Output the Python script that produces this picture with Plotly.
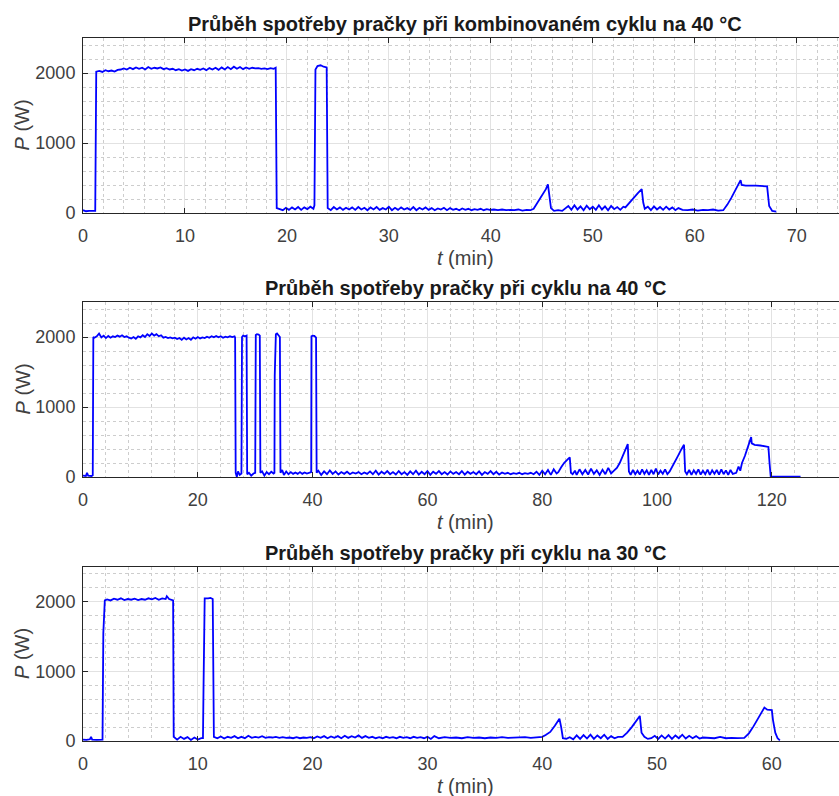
import plotly.graph_objects as go

# ---------------- data (t in min, P in W) ----------------
t_comb = [0.0, 0.3, 0.6, 0.9, 1.2, 1.3, 1.6, 1.9, 2.2, 2.5, 2.8, 3.1, 3.4, 3.7, 4.0, 4.3, 4.6, 4.9, 5.2, 5.5,
          5.8, 6.1, 6.4, 6.7, 7.0, 7.3, 7.6, 7.9, 8.2, 8.5, 8.8, 9.1, 9.4, 9.7, 10.0, 10.3, 10.6, 10.9, 11.2, 11.5,
          11.8, 12.1, 12.4, 12.7, 13.0, 13.3, 13.6, 13.9, 14.2, 14.5, 14.8, 15.1, 15.4, 15.7, 16.0, 16.3, 16.6, 16.9,
          17.2, 17.5, 17.8, 18.1, 18.4, 18.7, 18.9, 19.0, 19.3, 19.6, 19.9, 20.2, 20.5, 20.8, 21.1, 21.4, 21.7, 22.0,
          22.3, 22.6, 22.7, 22.8, 23.0, 23.3, 23.6, 23.9, 24.0, 24.3, 24.6, 24.9, 25.2, 25.5, 25.8, 26.1, 26.4, 26.7,
          27.0, 27.3, 27.6, 27.9, 28.2, 28.5, 28.8, 29.1, 29.4, 29.7, 30.0, 30.3, 30.6, 30.9, 31.2, 31.5, 31.8, 32.1,
          32.4, 32.7, 33.0, 33.3, 33.6, 33.9, 34.2, 34.5, 34.8, 35.1, 35.4, 35.7, 36.0, 36.3, 36.6, 36.9, 37.2, 37.5,
          37.8, 38.1, 38.4, 38.7, 39.0, 39.3, 39.6, 39.9, 40.3, 40.7, 41.1, 41.5, 41.9, 42.3, 42.7, 43.1, 43.5, 43.9,
          44.2, 44.6, 45.0, 45.4, 45.6, 45.75, 45.9, 46.2, 46.6, 47.0, 47.3, 47.6, 47.9, 48.2, 48.5, 48.8, 49.1, 49.4,
          49.7, 50.0, 50.3, 50.6, 50.9, 51.2, 51.5, 51.8, 52.1, 52.4, 52.7, 53.0, 53.2, 53.6, 54.0, 54.4, 54.8, 54.95,
          55.1, 55.4, 55.7, 56.0, 56.3, 56.6, 56.9, 57.2, 57.5, 57.8, 58.1, 58.4, 58.8, 59.3, 59.8, 60.3, 60.8, 61.3,
          61.8, 62.3, 62.8, 63.2, 63.6, 64.0, 64.4, 64.5, 64.6, 65.0, 66.0, 67.0, 67.1, 67.3, 67.6, 68.0]
p_comb = [40, 25, 30, 25, 30, 2020, 2030, 2015, 2040, 2025, 2035, 2020, 2045, 2050, 2065, 2050, 2075, 2055, 2080, 2060,
          2075, 2050, 2085, 2060, 2075, 2065, 2080, 2055, 2070, 2050, 2060, 2040, 2055, 2035, 2050, 2030, 2055, 2040, 2060, 2045,
          2065, 2040, 2070, 2050, 2075, 2045, 2080, 2050, 2085, 2055, 2090, 2060, 2085, 2055, 2080, 2060, 2075, 2065,
          2070, 2060, 2065, 2055, 2070, 2060, 2075, 70, 60, 40, 75, 45, 80, 50, 85, 45, 80, 55,
          90, 60, 110, 2050, 2100, 2110, 2090, 2080, 70, 40, 85, 50, 80, 45, 75, 50, 80, 45,
          85, 50, 75, 40, 80, 50, 85, 45, 70, 50, 90, 40, 75, 45, 80, 50, 70, 45,
          85, 40, 75, 50, 80, 45, 70, 40, 65, 50, 75, 40, 70, 45, 60, 40, 65, 45,
          60, 40, 55, 45, 60, 40, 55, 45, 50, 40, 50, 40, 45, 40, 50, 35, 45, 40,
          60, 150, 250, 340, 410, 200, 70, 30, 40, 30, 70, 100, 45, 110, 50, 95, 40, 105,
          55, 90, 45, 110, 50, 95, 40, 100, 55, 85, 45, 90, 80, 150, 220, 280, 340, 150,
          60, 90, 40, 95, 50, 85, 45, 90, 50, 80, 40, 70, 45, 40, 50, 35, 45, 40,
          50, 35, 40, 120, 220, 330, 430, 470, 400, 390, 390, 385, 380, 100, 30, 20]

t_c40 = [0.0, 0.5, 0.7, 0.9, 1.5, 1.7, 1.8, 2.0, 2.4, 2.8, 3.2, 3.6, 4.0, 4.4, 4.8, 5.2, 5.6, 6.0, 6.4, 6.8,
         7.2, 7.6, 8.0, 8.4, 8.8, 9.2, 9.6, 10.0, 10.4, 10.8, 11.2, 11.6, 12.0, 12.4, 12.8, 13.2, 13.6, 14.0, 14.4,
         14.8, 15.2, 15.6, 16.0, 16.4, 16.8, 17.2, 17.6, 18.0, 18.4, 18.8, 19.2, 19.6, 20.0, 20.4, 20.8, 21.2, 21.6,
         22.0, 22.4, 22.8, 23.2, 23.6, 24.0, 24.4, 24.8, 25.2, 25.6, 26.0, 26.4, 26.5, 26.6, 26.8, 27.0, 27.3, 27.6,
         27.7, 27.9, 28.2, 28.5, 28.6, 28.9, 29.3, 29.7, 30.0, 30.1, 30.3, 30.6, 30.8, 30.9, 31.2, 31.6, 32.0, 32.4,
         32.8, 33.2, 33.35, 33.4, 33.6, 33.8, 34.1, 34.3, 34.4, 34.7, 35.0, 35.4, 35.8, 36.2, 36.6, 37.0, 37.4, 37.8,
         38.2, 38.6, 39.0, 39.5, 39.75, 39.8, 40.0, 40.3, 40.6, 40.7, 41.0, 41.5, 42.0, 42.5, 43.0, 43.5, 44.0, 44.5,
         45.0, 45.5, 46.0, 46.5, 47.0, 47.5, 48.0, 48.5, 49.0, 49.5, 50.0, 50.5, 51.0, 51.5, 52.0, 52.5, 53.0, 53.5,
         54.0, 54.5, 55.0, 55.5, 56.0, 56.5, 57.0, 57.5, 58.0, 58.5, 59.0, 59.5, 60.0, 60.5, 61.0, 61.5, 62.0, 62.5,
         63.0, 63.5, 64.0, 64.5, 65.0, 65.5, 66.0, 66.5, 67.0, 67.5, 68.0, 68.5, 69.0, 69.5, 70.0, 70.5, 71.0, 71.5,
         72.0, 72.5, 73.0, 73.5, 74.0, 74.5, 75.0, 75.5, 76.0, 76.5, 77.0, 77.5, 78.0, 78.5, 79.0, 79.5, 80.0, 80.5,
         81.0, 81.5, 82.0, 82.5, 82.8, 83.3, 83.8, 84.3, 84.8, 85.0, 85.3, 85.7, 86.0, 86.5, 87.0, 87.5, 88.0, 88.5,
         89.0, 89.5, 90.0, 90.5, 91.0, 91.5, 92.0, 92.5, 93.0, 93.5, 94.0, 94.5, 94.9, 95.1, 95.4, 95.8, 96.2, 96.6,
         97.0, 97.4, 97.8, 98.2, 98.6, 99.0, 99.4, 99.8, 100.2, 100.6, 101.0, 101.4, 101.8, 102.2, 102.7, 103.2,
         103.7, 104.2, 104.7, 104.9, 105.2, 105.6, 106.0, 106.4, 106.8, 107.2, 107.6, 108.0, 108.4, 108.8, 109.2,
         109.6, 110.0, 110.4, 110.8, 111.2, 111.6, 112.0, 112.4, 112.8, 113.2, 113.8, 114.2, 114.5, 114.8, 115.3,
         115.8, 116.2, 116.4, 116.5, 117.0, 118.0, 119.0, 119.4, 119.6, 119.8, 120.2, 125.0]
p_c40 = [20, 15, 60, 20, 15, 25, 2000, 1990, 2010, 2050, 1995, 2020, 1985, 2015, 1990, 2010, 2000, 2020, 2005, 2025,
         2000, 2010, 1990, 1980, 2000, 1975, 2010, 1995, 2025, 2000, 2040, 2015, 2050, 2020, 2040, 2010, 2025, 1990, 2000,
         1985, 1995, 1980, 1990, 1970, 1985, 1960, 1990, 1965, 1985, 1960, 1995, 1975, 2000, 1980, 1995, 1985, 2005,
         1990, 2010, 1995, 2015, 1995, 2010, 1990, 2005, 1995, 2010, 2000, 2010, 1990, 60, 0, 80, 30, 50,
         2000, 2020, 2010, 2020, 40, 60, 20, 50, 60, 2030, 2040, 2035, 2020, 60, 80, 20, 70, 40,
         75, 50, 60, 1450, 2040, 2050, 2010, 2000, 60, 100, 30, 80, 40, 70, 45, 65, 45, 70,
         45, 65, 50, 60, 70, 2010, 2020, 2015, 1990, 60, 90, 30, 80, 40, 95, 45, 80, 35,
         70, 45, 75, 40, 65, 50, 70, 40, 65, 45, 80, 40, 90, 35, 75, 45, 85, 40,
         70, 35, 85, 40, 70, 30, 80, 40, 90, 35, 75, 40, 85, 30, 75, 45, 85, 40,
         70, 35, 80, 45, 70, 40, 85, 35, 75, 45, 70, 40, 80, 30, 70, 45, 85, 40,
         75, 35, 65, 45, 60, 40, 55, 45, 60, 40, 55, 45, 60, 40, 75, 30, 90, 40,
         100, 30, 110, 50, 70, 140, 200, 240, 280, 60, 40, 90, 30, 110, 40, 100, 35, 120,
         45, 95, 30, 105, 40, 130, 50, 90, 130, 200, 290, 390, 470, 80, 30, 100, 40, 90,
         35, 110, 45, 95, 30, 100, 40, 120, 35, 90, 45, 110, 40, 80, 150, 230,
         310, 390, 460, 80, 40, 100, 30, 95, 45, 110, 35, 90, 40, 105, 30,
         95, 45, 100, 35, 110, 40, 95, 30, 100, 45, 60, 150, 90, 200, 300,
         420, 500, 570, 480, 460, 450, 440, 430, 200, 10, 5, 5]

t_c30 = [0.0, 0.3, 0.6, 0.7, 0.8, 1.2, 1.7, 1.77, 1.9, 2.1, 2.4, 2.7, 3.0, 3.3, 3.6, 3.9, 4.2, 4.5, 4.8, 5.1,
         5.4, 5.7, 6.0, 6.3, 6.6, 6.9, 7.2, 7.3, 7.5, 7.7, 7.85, 7.9, 8.2, 8.5, 8.8, 9.1, 9.4, 9.7, 10.0, 10.3,
         10.45, 10.5, 10.6, 10.9, 11.1, 11.3, 11.4, 11.7, 12.0, 12.3, 12.6, 12.9, 13.2, 13.5, 13.8, 14.1, 14.4, 14.7,
         15.0, 15.3, 15.6, 15.9, 16.2, 16.5, 16.8, 17.1, 17.4, 17.7, 18.0, 18.3, 18.6, 18.9, 19.2, 19.5, 19.8, 20.1,
         20.4, 20.7, 21.0, 21.3, 21.6, 21.9, 22.2, 22.5, 22.8, 23.1, 23.4, 23.7, 24.0, 24.3, 24.6, 24.9, 25.2, 25.5,
         25.8, 26.1, 26.4, 26.7, 27.0, 27.3, 27.6, 27.9, 28.2, 28.5, 28.8, 29.1, 29.4, 29.7, 30.0, 30.3, 30.6, 31.0,
         31.5, 32.0, 32.5, 33.0, 33.5, 34.0, 34.5, 35.0, 35.5, 36.0, 36.5, 37.0, 37.5, 38.0, 38.5, 39.0, 39.5, 40.0,
         40.3, 40.7, 41.1, 41.5, 41.65, 41.8, 42.1, 42.4, 42.7, 43.0, 43.3, 43.6, 43.9, 44.2, 44.5, 44.8, 45.1, 45.4,
         45.7, 46.0, 46.3, 46.6, 47.0, 47.4, 47.8, 48.2, 48.5, 48.65, 48.9, 49.2, 49.5, 49.8, 50.1, 50.4, 50.7, 51.0,
         51.3, 51.6, 51.9, 52.2, 52.5, 52.8, 53.1, 53.4, 53.7, 54.0, 54.5, 55.0, 55.5, 56.0, 56.5, 57.0, 57.6, 58.0,
         58.4, 58.8, 59.2, 59.35, 59.6, 60.0, 60.1, 60.3, 60.5, 60.7]
p_c30 = [20, 15, 25, 60, 20, 15, 20, 1550, 2020, 2035, 2020, 2045, 2030, 2050, 2025, 2040, 2030, 2045, 2025, 2040,
         2030, 2050, 2035, 2055, 2030, 2050, 2040, 2080, 2040, 2030, 2020, 60, 20, 60, 30, 55, 15, 50, 20, 40,
         40, 800, 2050, 2050, 2055, 2040, 60, 40, 65, 35, 60, 45, 70, 40, 60, 40, 75, 45,
         60, 50, 70, 45, 55, 50, 60, 45, 55, 45, 50, 40, 55, 40, 50, 45, 55, 40,
         65, 45, 70, 40, 65, 45, 70, 40, 75, 45, 70, 50, 80, 45, 70, 45, 60, 40,
         55, 40, 60, 45, 55, 40, 60, 45, 55, 40, 60, 45, 55, 40, 60, 30, 70, 40,
         55, 45, 50, 40, 55, 45, 50, 40, 50, 45, 55, 45, 50, 45, 55, 45, 50, 60,
         85, 130, 220, 320, 200, 40, 30, 55, 25, 80, 30, 85, 35, 90, 30, 80, 40, 90,
         30, 70, 40, 60, 60, 120, 200, 290, 360, 120, 60, 30, 40, 75, 30, 80, 35, 85,
         30, 80, 40, 90, 35, 75, 40, 70, 35, 50, 45, 40, 60, 40, 45, 40, 45, 110,
         210, 330, 440, 480, 450, 445, 300, 120, 40, 10]

titles = ["Průběh spotřeby pračky při kombinovaném cyklu na 40 °C",
          "Průběh spotřeby pračky při cyklu na 40 °C",
          "Průběh spotřeby pračky při cyklu na 30 °C"]
x_ranges = [[0, 74.15], [0, 131.7], [0, 65.85]]
x_dticks = [10, 20, 10]
x_minor = [2, 4, 2]
y_range = [0, 2500]
y_ticks = [0, 1000, 2000]

# ---------------- layout ----------------
W, H = 839, 796
FONT = "Liberation Sans, Arial, Helvetica, sans-serif"
AX = "#262626"
TXT = "#404040"
GRID = "#e2e2e2"
MGRID = "#cdcdcd"

boxes = [(38, 213), (302, 477), (567, 741)]
left_px = 83

fig = go.Figure()
series = [(t_comb, p_comb), (t_c40, p_c40), (t_c30, p_c30)]
for i, (tt, pp) in enumerate(series):
    k = "" if i == 0 else str(i + 1)
    fig.add_trace(go.Scatter(x=tt, y=pp, mode="lines",
                             line=dict(color="#0000ff", width=1.8),
                             xaxis="x" + k, yaxis="y" + k, showlegend=False,
                             hoverinfo="skip"))

annotations = []
for i in range(3):
    k = "" if i == 0 else str(i + 1)
    top, bot = boxes[i]
    dom_y = [1 - bot / H, 1 - top / H]
    fig.layout["xaxis" + k] = dict(
        domain=[left_px / W, 1], range=x_ranges[i], dtick=x_dticks[i], tick0=0,
        anchor="y" + k, showline=True, linecolor=AX, linewidth=1, mirror="ticks",
        ticks="inside", ticklen=5, tickcolor=AX, tickwidth=1,
        showgrid=True, gridcolor=GRID, gridwidth=1, zeroline=False,
        tickfont=dict(family=FONT, size=18, color=TXT), ticklabelstandoff=6,
        automargin=False,
        minor=dict(dtick=x_minor[i], tick0=0, showgrid=True, gridcolor=MGRID,
                   griddash="dot", gridwidth=1, ticks=""),
        fixedrange=True)
    fig.layout["yaxis" + k] = dict(
        domain=dom_y, range=y_range, tickvals=y_ticks,
        anchor="x" + k, showline=True, linecolor=AX, linewidth=1,
        ticks="inside", ticklen=5, tickcolor=AX, tickwidth=1,
        showgrid=True, gridcolor=GRID, gridwidth=1, zeroline=False,
        tickfont=dict(family=FONT, size=18, color=TXT),
        ticklabelstandoff=3, automargin=False,
        minor=dict(dtick=200, tick0=0, showgrid=True, gridcolor=MGRID,
                   griddash="dot", gridwidth=1, ticks=""),
        fixedrange=True)
    annotations.append(dict(text="<b>" + titles[i] + "</b>", xref="paper", yref="paper",
                            x=465 / W, y=1 - (top - 14) / H, xanchor="center", yanchor="middle",
                            showarrow=False, font=dict(family=FONT, size=20, color="#1a1a1a")))
    annotations.append(dict(text="<i>P</i> (W)", xref="paper", yref="paper",
                            x=22 / W, y=1 - ((top + bot) / 2) / H, xanchor="center", yanchor="middle",
                            textangle=-90, showarrow=False,
                            font=dict(family=FONT, size=20, color=TXT)))
    annotations.append(dict(text="<i>t</i> (min)", xref="paper", yref="paper",
                            x=465 / W, y=1 - (bot + 45) / H, xanchor="center", yanchor="middle",
                            showarrow=False, font=dict(family=FONT, size=20, color=TXT)))

fig.update_layout(width=W, height=H, margin=dict(l=0, r=0, t=0, b=0, pad=0),
                  paper_bgcolor="white", plot_bgcolor="white",
                  annotations=annotations)

fig.write_html("out.html", config={"displayModeBar": False},
               post_script="document.body.style.margin='0';")
